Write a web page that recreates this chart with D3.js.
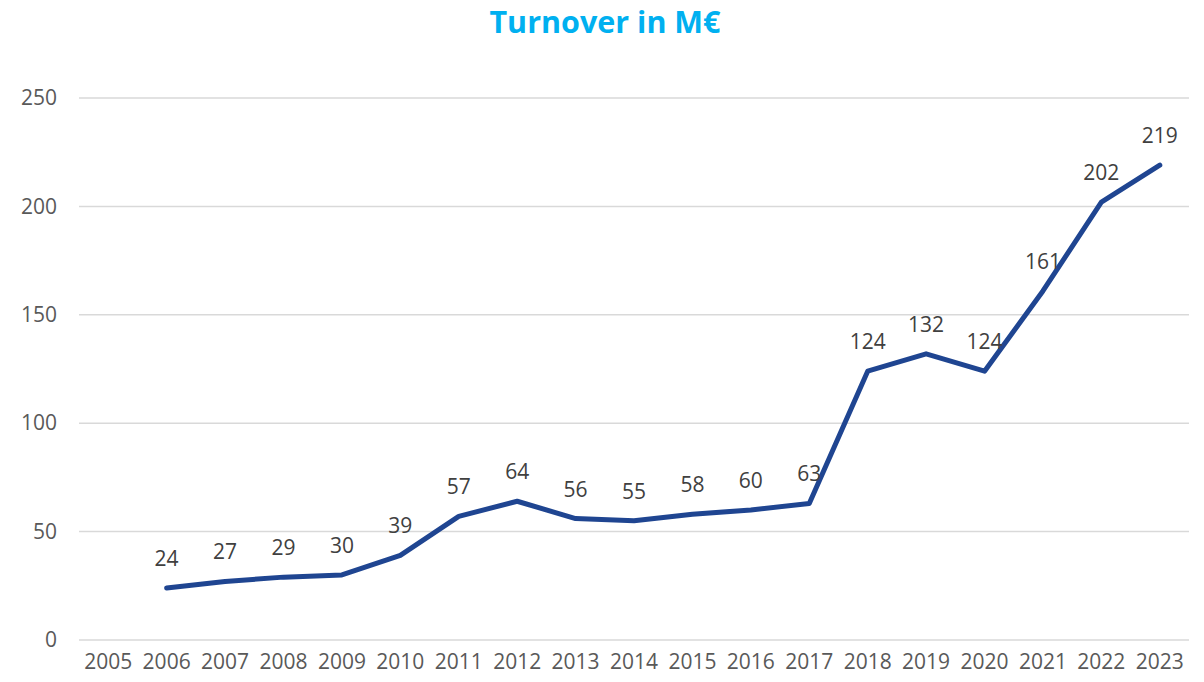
<!DOCTYPE html>
<html><head><meta charset="utf-8">
<script src="https://cdn.jsdelivr.net/npm/d3@7"></script>
<style>body{margin:0;background:#fff}svg{display:block}</style>
</head><body>
<svg id="c" width="1204" height="682"></svg>
<script>
const years = ["2005","2006","2007","2008","2009","2010","2011","2012","2013","2014","2015","2016","2017","2018","2019","2020","2021","2022","2023"];
const turnover = [null,24,27,29,30,39,57,64,56,55,58,60,63,124,132,124,161,202,219];
const yTicks = [0,50,100,150,200,250];
const title = "Turnover in M€";

const svg = d3.select("#c");
const font = "'Open Sans', sans-serif";
const x = d3.scaleBand().domain(years).range([79,1189]);
const y = d3.scaleLinear().domain([0,250]).range([640,98]);

svg.append("text").attr("x",605).attr("y",33).attr("text-anchor","middle")
  .attr("font-family",font).attr("font-weight","bold").attr("font-size",30.5)
  .attr("fill","#00B0F0").text(title);

// gridlines
svg.append("g").selectAll("line").data(yTicks).join("line")
  .attr("x1",79).attr("x2",1189).attr("y1",d=>y(d)).attr("y2",d=>y(d))
  .attr("stroke","#D9D9D9").attr("stroke-width",1.5);

const yAxis = svg.append("g").attr("transform","translate(79,0)")
  .call(d3.axisLeft(y).tickValues(yTicks).tickSize(0).tickPadding(22));
yAxis.select(".domain").remove();
yAxis.selectAll("text").attr("font-family",font).attr("font-size",21).attr("fill","#595959");

const xAxis = svg.append("g").attr("transform","translate(0,640)")
  .call(d3.axisBottom(x).tickSize(0).tickPadding(14));
xAxis.select(".domain").remove();
xAxis.selectAll("text").attr("font-family",font).attr("font-size",21).attr("fill","#595959");

const pts = years.map((yr,i)=>({yr, v:turnover[i]})).filter(d=>d.v!==null);
const cx = d=>x(d.yr)+x.bandwidth()/2;
svg.append("path").datum(pts)
  .attr("d", d3.line().x(cx).y(d=>y(d.v)))
  .attr("fill","none").attr("stroke","#1F4591").attr("stroke-width",5)
  .attr("stroke-linejoin","round").attr("stroke-linecap","round");

svg.append("g").selectAll("text").data(pts).join("text")
  .attr("x",cx).attr("y",d=>y(d.v)-22).attr("text-anchor","middle")
  .attr("font-family",font).attr("font-size",21).attr("fill","#404040")
  .text(d=>d.v);
</script>
</body></html>
